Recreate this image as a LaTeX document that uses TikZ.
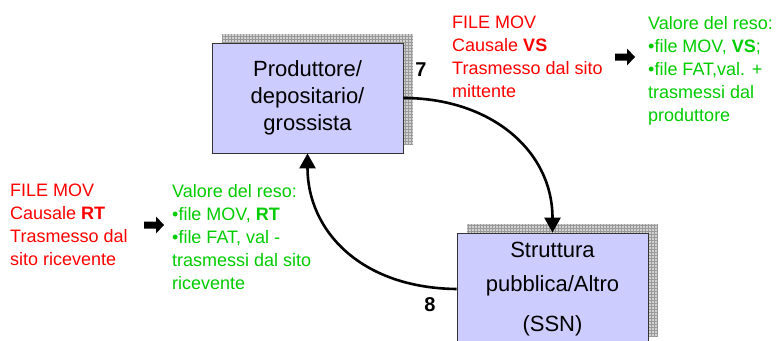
\documentclass[tikz,border=0pt]{standalone}
\usepackage{fontspec}
\setmainfont{Liberation Sans}
\usetikzlibrary{arrows.meta,backgrounds}
\definecolor{movred}{RGB}{255,0,0}
\definecolor{resogreen}{RGB}{0,204,0}
\definecolor{boxfill}{RGB}{204,204,255}
\definecolor{boxline}{RGB}{51,51,51}
\tikzset{
  actor/.style={draw=boxline, line width=0.8pt, fill=boxfill, inner sep=0pt,
    minimum width=191pt, minimum height=110pt, align=center,
    font=\fontsize{22}{27}\selectfont},
  redtext/.style={anchor=north west, inner sep=0pt, align=left, text=movred,
    font=\fontsize{18}{23}\selectfont},
  greentext/.style={anchor=north west, inner sep=0pt, align=left, text=resogreen,
    font=\fontsize{18}{23}\selectfont},
  flow/.style={line width=2.6pt, -{Triangle[length=15pt,width=16pt]}},
  stepnum/.style={inner sep=0pt, font=\fontsize{20}{24}\selectfont\bfseries}
}
% grey hatched drop shadow behind a box
\newcommand{\gridshadow}[1]{%
  \fill[gray!35] ([xshift=10pt,yshift=9pt]#1.south west) rectangle ([xshift=10pt,yshift=9pt]#1.north east);
  \begin{scope}
    \clip ([xshift=10pt,yshift=9pt]#1.south west) rectangle ([xshift=10pt,yshift=9pt]#1.north east);
    \draw[gray!80, line width=0.35pt, step=3pt] ([xshift=10pt,yshift=9pt]#1.south west) grid ([xshift=10pt,yshift=9pt]#1.north east);
  \end{scope}}
% fat block arrow starting at a named coordinate, pointing right
\newcommand{\fatarrow}[1]{%
  \fill[black] (#1) ++(0,-3.5) -- ++(12,0) -- ++(0,-5) -- ++(8,8.5) -- ++(-8,8.5)
    -- ++(0,-5) -- ++(-12,0) -- cycle;}
\begin{document}
\begin{tikzpicture}[x=1pt, y=-1pt]
\useasboundingbox (0,0) rectangle (784,340);

% the two actors
\node[actor] (prod) at (307.5,98) {Produttore/\\depositario/\\grossista};
\node[actor, minimum height=112pt, font=\fontsize{22}{34}\selectfont] (ssn) at (552.5,289)
  {Struttura\\pubblica/Altro\\[6pt](SSN)};

\begin{scope}[on background layer]
  \gridshadow{prod}
  \gridshadow{ssn}
\end{scope}

% flows between the actors
\draw[flow] (prod.east) .. controls (490,98) and (552.5,150) .. (ssn.north);
\draw[flow] (ssn.west) .. controls (360,288) and (307.5,230) .. (prod.south);

\node[stepnum] (n7) at (421,70) {7};
\node[stepnum] (n8) at (430,305) {8};

% outgoing return (VS)
\node[redtext] (vsmov) at (452,16) {FILE MOV\\Causale \textbf{VS}\\Trasmesso dal sito\\mittente};
\coordinate (vsarrow) at (615,57);
\fatarrow{vsarrow}
\node[greentext] (vsreso) at (648,16) {Valore del reso:\\•file MOV, \textbf{VS};\\•file FAT,val. +\\trasmessi dal\\produttore};

% incoming return (RT)
\node[redtext] (rtmov) at (10,184) {FILE MOV\\Causale \textbf{RT}\\Trasmesso dal\\sito ricevente};
\coordinate (rtarrow) at (144,225);
\fatarrow{rtarrow}
\node[greentext] (rtreso) at (172,184) {Valore del reso:\\•file MOV, \textbf{RT}\\•file FAT, val -\\trasmessi dal sito\\ricevente};
\end{tikzpicture}
\end{document}
